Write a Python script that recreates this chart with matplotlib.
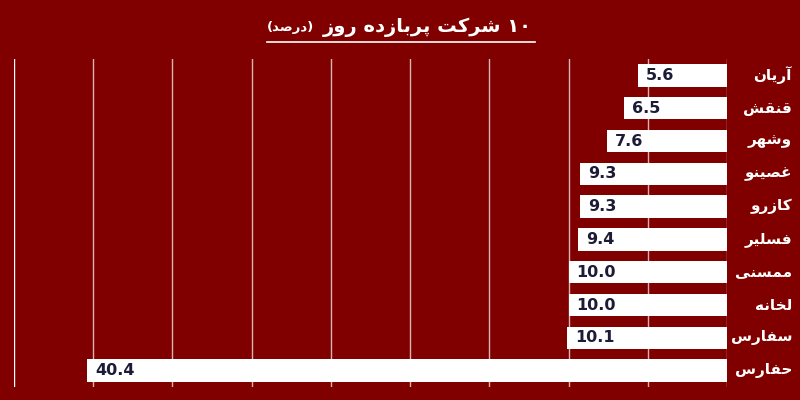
import matplotlib
matplotlib.use("Agg")
import matplotlib.pyplot as plt
from matplotlib.lines import Line2D
from matplotlib.transforms import offset_copy

# ---------------- data ----------------
companies = ["آریان", "قنقش", "وشهر", "غصینو", "کازرو", "فسلیر", "ممسنی", "لخانه", "سفارس", "حفارس"]
values = [5.6, 6.5, 7.6, 9.3, 9.3, 9.4, 10.0, 10.0, 10.1, 40.4]
title_main = "۱۰ شرکت پربازده روز"
title_unit = "درصد"
grid_ticks = [0, 5, 10, 15, 20, 25, 30, 35, 40, 45]

# ---------------- simple Arabic/Persian shaping ----------------
FORMS = {
    '\u0627': (0xFE8D, 0xFE8E, None, None),
    '\u0622': (0xFE81, 0xFE82, None, None),
    '\u0628': (0xFE8F, 0xFE90, 0xFE91, 0xFE92),
    '\u062A': (0xFE95, 0xFE96, 0xFE97, 0xFE98),
    '\u062B': (0xFE99, 0xFE9A, 0xFE9B, 0xFE9C),
    '\u062C': (0xFE9D, 0xFE9E, 0xFE9F, 0xFEA0),
    '\u062D': (0xFEA1, 0xFEA2, 0xFEA3, 0xFEA4),
    '\u062E': (0xFEA5, 0xFEA6, 0xFEA7, 0xFEA8),
    '\u062F': (0xFEA9, 0xFEAA, None, None),
    '\u0630': (0xFEAB, 0xFEAC, None, None),
    '\u0631': (0xFEAD, 0xFEAE, None, None),
    '\u0632': (0xFEAF, 0xFEB0, None, None),
    '\u0633': (0xFEB1, 0xFEB2, 0xFEB3, 0xFEB4),
    '\u0634': (0xFEB5, 0xFEB6, 0xFEB7, 0xFEB8),
    '\u0635': (0xFEB9, 0xFEBA, 0xFEBB, 0xFEBC),
    '\u0636': (0xFEBD, 0xFEBE, 0xFEBF, 0xFEC0),
    '\u0637': (0xFEC1, 0xFEC2, 0xFEC3, 0xFEC4),
    '\u0638': (0xFEC5, 0xFEC6, 0xFEC7, 0xFEC8),
    '\u0639': (0xFEC9, 0xFECA, 0xFECB, 0xFECC),
    '\u063A': (0xFECD, 0xFECE, 0xFECF, 0xFED0),
    '\u0641': (0xFED1, 0xFED2, 0xFED3, 0xFED4),
    '\u0642': (0xFED5, 0xFED6, 0xFED7, 0xFED8),
    '\u0643': (0xFED9, 0xFEDA, 0xFEDB, 0xFEDC),
    '\u0644': (0xFEDD, 0xFEDE, 0xFEDF, 0xFEE0),
    '\u0645': (0xFEE1, 0xFEE2, 0xFEE3, 0xFEE4),
    '\u0646': (0xFEE5, 0xFEE6, 0xFEE7, 0xFEE8),
    '\u0647': (0xFEE9, 0xFEEA, 0xFEEB, 0xFEEC),
    '\u0648': (0xFEED, 0xFEEE, None, None),
    '\u064A': (0xFEF1, 0xFEF2, 0xFEF3, 0xFEF4),
    '\u067E': (0xFB56, 0xFB57, 0xFB58, 0xFB59),
    '\u0686': (0xFB7A, 0xFB7B, 0xFB7C, 0xFB7D),
    '\u0698': (0xFB8A, 0xFB8B, None, None),
    '\u06A9': (0xFB8E, 0xFB8F, 0xFB90, 0xFB91),
    '\u06AF': (0xFB92, 0xFB93, 0xFB94, 0xFB95),
    '\u06CC': (0xFBFC, 0xFBFD, 0xFBFE, 0xFBFF),
}


def dual(c):
    return c in FORMS and FORMS[c][2] is not None


def shape_word(word):
    out = []
    n = len(word)
    for i, c in enumerate(word):
        if c not in FORMS:
            out.append(c)
            continue
        prev_c = word[i - 1] if i > 0 else None
        next_c = word[i + 1] if i < n - 1 else None
        jp = prev_c is not None and dual(prev_c)
        jn = dual(c) and next_c is not None and next_c in FORMS
        iso, fin, ini, med = FORMS[c]
        if jp and jn:
            code = med
        elif jp:
            code = fin
        elif jn:
            code = ini
        else:
            code = iso
        out.append(chr(code))
    return "".join(reversed(out))


def visual(text):
    # RTL words: reverse word order, shape each word; digit runs kept LTR
    words = text.split(" ")
    vis = []
    for w in words:
        if all(ch in "۰۱۲۳۴۵۶۷۸۹0123456789." for ch in w):
            vis.append(w)
        else:
            vis.append(shape_word(w))
    return " ".join(reversed(vis))


FAM = ["DejaVu Sans", "Noto Sans", "Liberation Sans"]

# ---------------- figure ----------------
bg = "#800000"
fig = plt.figure(figsize=(8, 4), dpi=100, facecolor=bg)
ax = fig.add_axes([14 / 800, 1 - 387 / 400, (727 - 14) / 800, (387 - 59) / 400])
ax.set_facecolor(bg)

y = list(range(len(companies)))
ax.barh(y, values, height=0.68, color="white", zorder=3)
ax.set_xlim(45, 0)
ax.set_ylim(len(companies) - 0.5, -0.5)

for t in grid_ticks:
    col = "white" if t == 45 else "#d7b4b4"
    ax.axvline(t, color=col, linewidth=1.0, zorder=1)

for s in ax.spines.values():
    s.set_visible(False)
ax.set_xticks([])
ax.set_yticks([])

# value labels inside bars at left end
for yi, v in zip(y, values):
    tr = offset_copy(ax.transData, fig=fig, x=8, y=0, units="dots")
    ax.text(v, yi, f"{v:.1f}", transform=tr, ha="left", va="center",
            fontsize=11.5, fontweight="bold", color="#1c1c36",
            family=FAM, zorder=4)

# category labels on the right
for yi, name in zip(y, companies):
    tr = offset_copy(ax.transData, fig=fig, x=792 - 727, y=0, units="dots")
    ax.text(0, yi, visual(name), transform=tr, ha="right", va="center",
            fontsize=11, fontweight="bold", color="white", family=FAM)

# title
fig.text(532 / 800, 1 - 27 / 400, visual(title_main), ha="right", va="center",
         fontsize=14, fontweight="bold", color="white", family=FAM)
fig.text(267 / 800, 1 - 28 / 400, "(" + shape_word(title_unit) + ")", ha="left",
         va="center", fontsize=9.5, fontweight="bold", color="white", family=FAM)
fig.add_artist(Line2D([267 / 800, 535 / 800], [1 - 42 / 400, 1 - 42 / 400],
                      transform=fig.transFigure, color="white", linewidth=1.2))

fig.savefig("out.png", dpi=100, facecolor=bg)
